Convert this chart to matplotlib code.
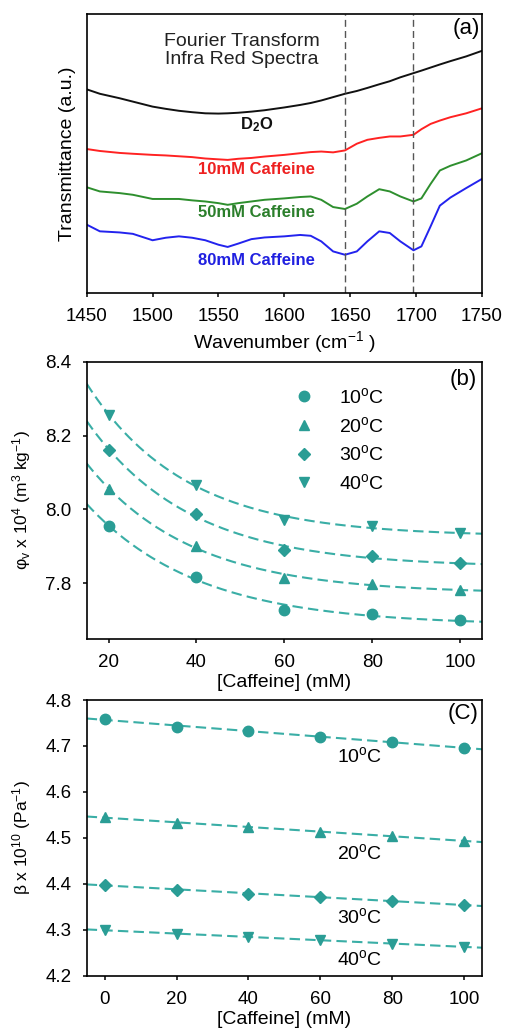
import numpy as np
import matplotlib
matplotlib.use("Agg")
import matplotlib.pyplot as plt
from matplotlib.lines import Line2D

plt.rcParams.update({
    "font.family": ["Liberation Sans", "DejaVu Sans"],
    "mathtext.fontset": "custom",
    "mathtext.rm": "Liberation Sans",
    "mathtext.it": "Liberation Sans:italic",
    "mathtext.bf": "Liberation Sans:bold",
    "xtick.direction": "out",
    "ytick.direction": "out",
    "axes.linewidth": 1.2,
    "xtick.major.width": 1.1,
    "ytick.major.width": 1.1,
    "xtick.major.size": 3,
    "ytick.major.size": 3,
    "xtick.labelsize": 13.5,
    "ytick.labelsize": 13.5,
})

# ---------------- FTIR spectra (transmittance, arbitrary units) ----------------
wavenumber = [1450, 1460, 1475, 1485, 1500, 1510, 1520, 1530, 1540, 1550, 1557,
              1565, 1575, 1585, 1600, 1612, 1620, 1628, 1637, 1646, 1655, 1663,
              1672, 1680, 1688, 1698, 1704, 1711, 1718, 1726, 1738, 1750]
t_d2o = [73.0, 71.4, 69.8, 68.6, 66.8, 66.0, 65.3, 64.8, 64.4, 64.3, 64.4,
         64.6, 65.0, 65.5, 66.5, 67.4, 68.1, 69.0, 70.2, 71.4, 72.4, 73.5,
         74.8, 75.9, 77.3, 78.8, 79.7, 80.8, 81.9, 83.1, 84.8, 86.8]
t_caf10 = [51.6, 50.9, 50.2, 49.9, 49.5, 49.3, 49.0, 48.7, 48.2, 47.9, 47.7,
           48.1, 48.4, 48.9, 49.5, 50.1, 50.5, 50.7, 50.4, 51.1, 53.5, 54.9,
           55.6, 56.1, 56.1, 56.7, 58.7, 60.6, 61.8, 63.0, 64.4, 66.2]
t_caf50 = [37.9, 36.4, 35.8, 35.2, 33.7, 33.7, 33.7, 33.2, 32.8, 32.2, 31.6,
           32.2, 32.8, 33.4, 33.9, 34.4, 34.6, 33.4, 30.8, 30.1, 32.0, 34.6,
           37.2, 36.4, 34.6, 32.8, 33.9, 39.1, 43.9, 45.6, 47.5, 50.1]
t_caf80 = [24.5, 22.1, 21.7, 21.2, 18.9, 19.8, 20.3, 19.8, 18.9, 17.3, 16.5,
           17.7, 19.3, 19.9, 20.3, 20.8, 20.5, 18.5, 14.9, 13.7, 14.9, 18.5,
           22.1, 21.5, 18.5, 15.3, 16.7, 23.9, 31.3, 34.2, 37.6, 40.9]
band_positions = [1646, 1698]
spectra_names = [r"$\mathbf{D_2O}$", "10mM Caffeine", "50mM Caffeine", "80mM Caffeine"]
spectra_colors = ["#111111", "#ff2222", "#2e8f2e", "#2323ee"]
label_colors = ["#111111", "#ee2020", "#2b7f2b", "#2020e0"]

# ---------------- apparent molar volume vs caffeine ----------------
conc_b = [20, 40, 60, 80, 100]
phi_10 = [7.954, 7.817, 7.728, 7.715, 7.699]
phi_20 = [8.056, 7.900, 7.814, 7.798, 7.782]
phi_30 = [8.162, 7.986, 7.889, 7.872, 7.855]
phi_40 = [8.257, 8.067, 7.972, 7.954, 7.936]

# ---------------- compressibility vs caffeine ----------------
conc_c = [0, 20, 40, 60, 80, 100]
beta_10 = [4.759, 4.742, 4.732, 4.720, 4.709, 4.696]
beta_20 = [4.546, 4.532, 4.523, 4.513, 4.504, 4.494]
beta_30 = [4.398, 4.387, 4.378, 4.371, 4.363, 4.354]
beta_40 = [4.299, 4.291, 4.285, 4.278, 4.269, 4.263]

temps = [r"10$^{\rm o}$C", r"20$^{\rm o}$C", r"30$^{\rm o}$C", r"40$^{\rm o}$C"]
markers = ["o", "^", "D", "v"]
msizes = [7.5, 7, 6, 7]
teal = "#2a9d95"
teal_line = "#3aaea6"


def exp_decay_fit(x, y):
    """Least-squares fit of y = c + a*exp(-k x) (grid over k)."""
    x = np.asarray(x, float)
    y = np.asarray(y, float)
    best = None
    for k in np.linspace(0.005, 0.2, 800):
        A = np.column_stack([np.ones_like(x), np.exp(-k * x)])
        coef = np.linalg.lstsq(A, y, rcond=None)[0]
        err = np.sum((A @ coef - y) ** 2)
        if best is None or err < best[0]:
            best = (err, k, coef)
    _, k, (c, a) = best
    return lambda t: c + a * np.exp(-k * t)


fig = plt.figure(figsize=(5.06, 10.36), dpi=100)
L, W = 0.1713, 0.7813

# ---------- panel (a) ----------
ax1 = fig.add_axes([L, 0.7172, W, 0.2693])
for ys, col in zip([t_d2o, t_caf10, t_caf50, t_caf80], spectra_colors):
    ax1.plot(wavenumber, ys, color=col, lw=1.4)
for b in band_positions:
    ax1.axvline(b, color="#555555", lw=1.0, ls=(0, (5, 3)))
ax1.set_xlim(1450, 1750)
ax1.set_ylim(0, 100)
ax1.set_xticks(np.arange(1450, 1751, 50))
ax1.set_yticks([])
ax1.tick_params(axis="x", pad=8)
ax1.set_xlabel(r"Wavenumber (cm$^{-1}$ )", fontsize=14, labelpad=3)
ax1.set_ylabel("Transmittance (a.u.)", fontsize=14)
ax1.yaxis.set_label_coords(-0.027, 0.5)
ax1.text(1567.7, 86.8, "Fourier Transform\nInfra Red Spectra", ha="center",
         va="center", fontsize=14, linespacing=1.1, color="#222222")
label_y = [60.3, 44.1, 28.8, 11.6]
for name, col, yy in zip(spectra_names, label_colors, label_y):
    ax1.text(1578.8, yy, name, ha="center", va="center", fontsize=12,
             fontweight="bold", color=col)
ax1.text(0.995, 0.985, "(a)", transform=ax1.transAxes, ha="right", va="top",
         fontsize=16)

# ---------- panel (b) ----------
ax2 = fig.add_axes([L, 0.3832, W, 0.2674])
xf = np.linspace(15, 105, 300)
handles = []
for ys, m, ms, lab in zip([phi_10, phi_20, phi_30, phi_40], markers, msizes, temps):
    f = exp_decay_fit(conc_b, ys)
    ax2.plot(xf, f(xf), color=teal_line, lw=1.5, ls=(0, (5, 2.5)), zorder=2)
    ax2.plot(conc_b, ys, ls="none", marker=m, ms=ms, color=teal,
             markeredgecolor=teal, zorder=3)
    handles.append(Line2D([], [], ls="none", marker=m, ms=ms, color=teal,
                          markeredgecolor=teal, label=lab))
ax2.set_xlim(15, 105)
ax2.set_ylim(7.648, 8.4)
ax2.set_xticks([20, 40, 60, 80, 100])
ax2.set_yticks([7.8, 8.0, 8.2, 8.4])
ax2.set_yticklabels(["7.8", "8.0", "8.2", "8.4"])
ax2.tick_params(axis="x", pad=8)
ax2.tick_params(axis="y", pad=8)
ax2.set_xlabel("[Caffeine] (mM)", fontsize=14, labelpad=2)
ax2.set_ylabel("\u03c6$_{\\rm v}$ x 10$^4$ (m$^3$ kg$^{-1}$)", fontsize=12.5)
ax2.yaxis.set_label_coords(-0.136, 0.5)
ax2.legend(handles=handles, loc="upper left", bbox_to_anchor=(0.524, 0.91),
           frameon=False, fontsize=14, handlelength=1.0, handletextpad=1.3,
           labelspacing=0.45, borderpad=0, borderaxespad=0)
ax2.text(0.987, 0.975, "(b)", transform=ax2.transAxes, ha="right", va="top",
         fontsize=16)

# ---------- panel (c) ----------
ax3 = fig.add_axes([L, 0.0582, W, 0.2661])
xl = np.array([-5, 105])
label_pos = [4.678, 4.466, 4.328, 4.236]
for ys, m, ms, lab, ly in zip([beta_10, beta_20, beta_30, beta_40], markers,
                              msizes, temps, label_pos):
    slope, icpt = np.polyfit(conc_c, ys, 1)
    ax3.plot(xl, slope * xl + icpt, color=teal_line, lw=1.5, ls=(0, (5, 2.5)),
             zorder=2)
    ax3.plot(conc_c, ys, ls="none", marker=m, ms=ms, color=teal,
             markeredgecolor=teal, zorder=3)
    ax3.text(64.6, ly, lab, ha="left", va="center", fontsize=14)
ax3.set_xlim(-5, 105)
ax3.set_ylim(4.2, 4.8)
ax3.set_xticks([0, 20, 40, 60, 80, 100])
ax3.set_yticks(np.round(np.arange(4.2, 4.81, 0.1), 1))
ax3.set_yticklabels(["4.2", "4.3", "4.4", "4.5", "4.6", "4.7", "4.8"])
ax3.tick_params(axis="x", pad=8)
ax3.tick_params(axis="y", pad=8)
ax3.set_xlabel("[Caffeine] (mM)", fontsize=14, labelpad=2)
ax3.set_ylabel("\u03b2 x 10$^{10}$ (Pa$^{-1}$)", fontsize=12.5)
ax3.yaxis.set_label_coords(-0.136, 0.5)
ax3.text(0.99, 0.988, "(C)", transform=ax3.transAxes, ha="right", va="top",
         fontsize=16)

fig.savefig("out.png", dpi=100)
